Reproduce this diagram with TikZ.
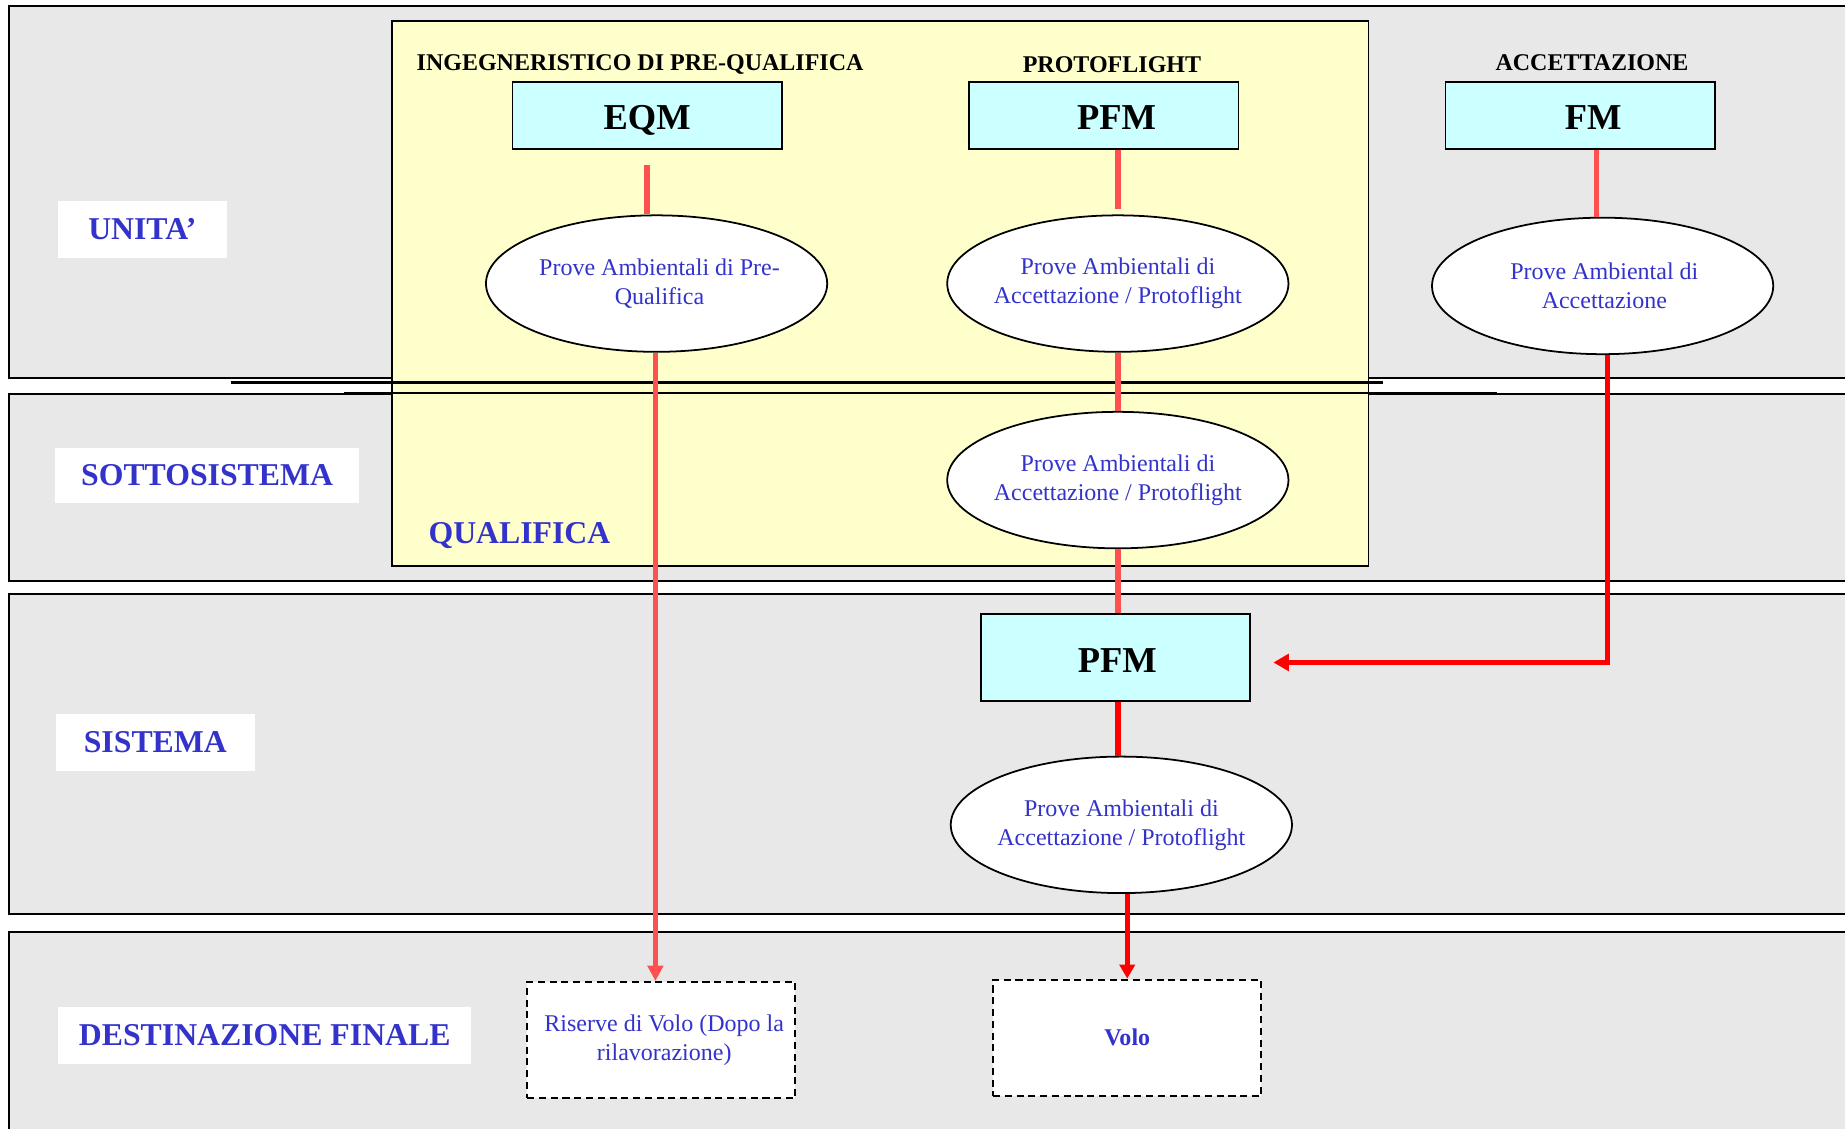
\documentclass[tikz,border=0pt]{standalone}
\usepackage{fontspec}
\setmainfont{Liberation Serif}
\usetikzlibrary{shapes.geometric,arrows.meta,positioning}
\definecolor{bandgray}{HTML}{E8E8E8}
\definecolor{qualyellow}{HTML}{FFFFCC}
\definecolor{modcyan}{HTML}{CCFFFF}
\definecolor{textblue}{HTML}{3333CC}
\definecolor{softred}{HTML}{FF5050}
\tikzset{
  band/.style={draw=black,line width=1.6pt,fill=bandgray},
  rowlabel/.style={fill=white,text=textblue,font=\fontsize{27}{30}\selectfont\bfseries,inner sep=0pt},
  header/.style={font=\fontsize{20.4}{22}\selectfont\bfseries},
  model/.style={draw=black,line width=1.5pt,fill=modcyan,minimum width=229pt,minimum height=57pt,inner sep=0pt,text height=24.5pt,text depth=0pt,font=\fontsize{31}{34}\selectfont\bfseries},
  testell/.style={ellipse,draw=black,line width=1.5pt,fill=white,minimum width=290pt,minimum height=116pt,inner xsep=-8pt,inner ysep=0pt,align=center,text=textblue,font=\fontsize{20.4}{24.5}\selectfont},
  destbox/.style={draw=black,dash pattern=on 6pt off 4pt,line width=1.6pt,fill=white,minimum width=228pt,minimum height=99pt,inner sep=0pt,align=center,text=textblue,font=\fontsize{20.4}{24.5}\selectfont},
  softlink/.style={draw=softred,line width=4.6pt},
  hardlink/.style={draw=red,line width=4.6pt},
}
\begin{document}
\begin{tikzpicture}[x=1pt,y=-1pt]
  \useasboundingbox (0,0) rectangle (1568,959);
  % fasce
  \draw[band] (8,5) rectangle (1580,321);
  \draw[band] (8,335) rectangle (1580,494);
  \draw[band] (8,505) rectangle (1580,777);
  \draw[band] (8,792) rectangle (1580,975);
  % area di qualifica
  \draw[line width=1.6pt,fill=qualyellow] (333,18) rectangle (1163,481);
  \draw[line width=2pt] (196,325) -- (1175,325);
  \draw[line width=1.6pt] (292,334) -- (1272,334);
  % etichette delle fasce
  \node[rowlabel,minimum width=143pt,minimum height=48pt] (unita) at (121,195) {UNITA’};
  \node[rowlabel,minimum width=258pt,minimum height=47pt] (sotto) at (176,404) {SOTTOSISTEMA};
  \node[rowlabel,minimum width=169pt,minimum height=48pt] (sist) at (132,631) {SISTEMA};
  \node[rowlabel,minimum width=351pt,minimum height=49pt] (dest) at (225,880) {DESTINAZIONE FINALE};
  \node[text=textblue,font=\fontsize{27}{30}\selectfont\bfseries,anchor=west,inner sep=0pt] (qual) at (364,455) {QUALIFICA};
  % modelli
  \node[header] (hdeqm) at (544,55) {INGEGNERISTICO DI PRE-QUALIFICA};
  \node[header] (hdpfm) at (945,55) {PROTOFLIGHT};
  \node[header] (hdfm) at (1353,53) {ACCETTAZIONE};
  \node[model] (eqm) at (550,98) {EQM};
  \node[model] (pfm) at (938,98) {\hspace*{22pt}PFM};
  \node[model] (fm) at (1343,98) {\hspace*{22pt}FM};
  \node[model,minimum height=74pt] (pfmsys) at (948,559) {\hspace*{3pt}PFM};
  % prove
  \node[testell] (preq) at (558,241) {\hspace*{5pt}Prove Ambientali di Pre-\\\hspace*{5pt}Qualifica};
  \node[testell] (protoa) at (950,241) {Prove Ambientali di\\Accettazione / Protoflight};
  \node[testell] (accfm) at (1362,243) {\hspace*{3pt}Prove Ambiental di\\\hspace*{3pt}Accettazione};
  \node[testell] (protob) at (950,408) {Prove Ambientali di\\Accettazione / Protoflight};
  \node[testell] (protoc) at (953,701) {Prove Ambientali di\\Accettazione / Protoflight};
  % destinazioni
  \node[destbox] (riserve) at (562,884) {\hspace*{5pt}Riserve di Volo (Dopo la\\\hspace*{5pt}rilavorazione)};
  \node[destbox,font=\fontsize{20.4}{24.5}\selectfont\bfseries] (volo) at (958,882) {Volo};
  % collegamenti
  \draw[softlink,shorten <=13pt] (eqm.south) -- (eqm.south |- preq.north);
  \draw[softlink,shorten >=5pt] (protoa.north |- pfm.south) -- (protoa.north);
  \draw[softlink] (fm.south -| 1357,0) -- (1357,0 |- accfm.north);
  \draw[softlink] (protoa.south) -- (protob.north);
  \draw[softlink] (protob.south) -- (protob.south |- pfmsys.north);
  \draw[hardlink] (protob.south |- pfmsys.south) -- (protob.south |- protoc.north);
  \draw[softlink,-{Triangle[length=13pt,width=13pt]},line width=3.6pt] (557,0 |- preq.south) -- (557,0 |- riserve.north);
  \draw[hardlink,-{Triangle[length=12pt,width=13pt]}] (volo.north |- protoc.south) -- (volo.north);
  \draw[hardlink,-{Triangle[length=13pt,width=14pt]},shorten >=19pt] (1366,0 |- accfm.south) |- ([yshift=-4pt]pfmsys.east);
\end{tikzpicture}
\end{document}
